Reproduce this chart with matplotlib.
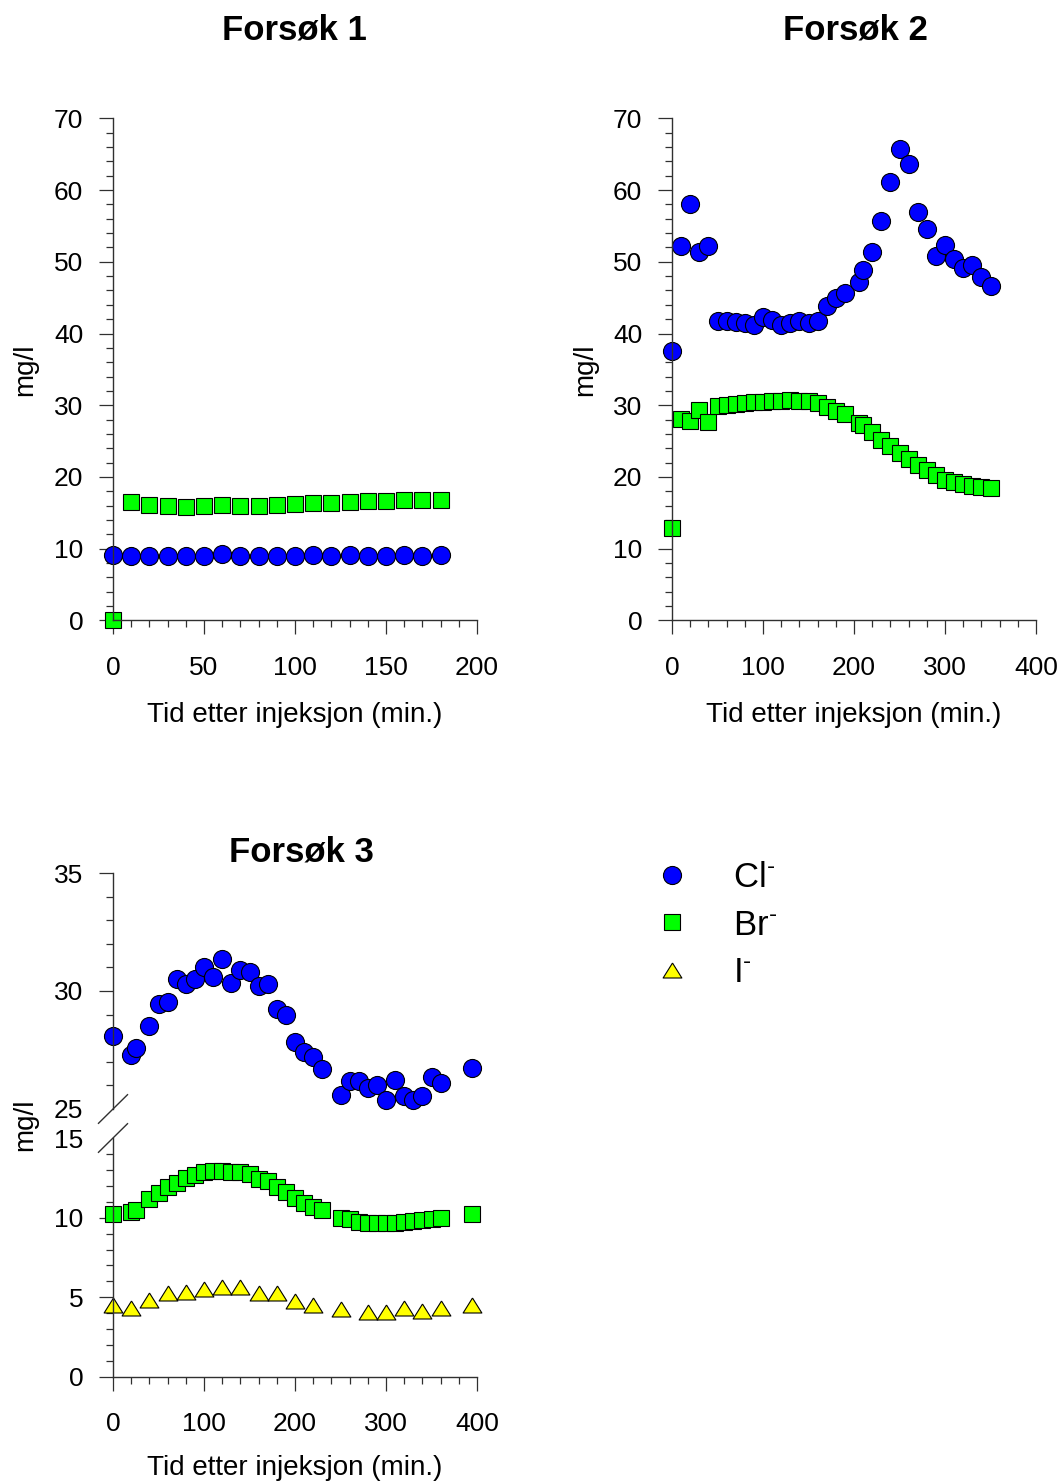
import matplotlib
matplotlib.use('Agg')
import matplotlib.pyplot as plt
from matplotlib.ticker import MultipleLocator, FixedLocator

plt.rcParams['font.family'] = ['Liberation Sans', 'DejaVu Sans']
plt.rcParams['mathtext.fontset'] = 'custom'
plt.rcParams['mathtext.rm'] = 'Liberation Sans'
plt.rcParams['mathtext.it'] = 'Liberation Sans:italic'
plt.rcParams['mathtext.bf'] = 'Liberation Sans:bold'

# ---------------- data ----------------
# Forsøk 1
x1 = [0, 10, 20, 30, 40, 50, 60, 70, 80, 90, 100, 110, 120, 130, 140, 150, 160, 170, 180]
cl1 = [9.1, 8.9, 9.0, 9.0, 9.0, 9.0, 9.2, 9.0, 9.0, 9.0, 9.0, 9.1, 9.0, 9.1, 9.0, 9.0, 9.1, 9.0, 9.1]
br1 = [0.0, 16.5, 16.1, 16.0, 15.8, 15.9, 16.1, 16.0, 16.0, 16.1, 16.2, 16.4, 16.4, 16.5, 16.6, 16.7, 16.8, 16.8, 16.8]

# Forsøk 2
x2 = [0, 10, 20, 30, 40, 50, 60, 70, 80, 90, 100, 110, 120, 130, 140, 150, 160, 170, 180, 190,
      205, 210, 220, 230, 240, 250, 260, 270, 280, 290, 300, 310, 320, 330, 340, 350]
cl2 = [37.5, 52.2, 58.1, 51.3, 52.2, 41.8, 41.7, 41.6, 41.5, 41.2, 42.3, 41.9, 41.2, 41.4, 41.7, 41.4,
       41.8, 43.9, 45.0, 45.7, 47.2, 48.8, 51.3, 55.7, 61.1, 65.7, 63.6, 56.9, 54.6, 50.8, 52.4, 50.4,
       49.2, 49.5, 47.9, 46.6]
br2 = [12.9, 28.1, 27.8, 29.3, 27.6, 29.9, 30.0, 30.2, 30.3, 30.4, 30.5, 30.6, 30.6, 30.7, 30.6, 30.6,
       30.3, 29.8, 29.2, 28.8, 27.5, 27.3, 26.3, 25.2, 24.3, 23.3, 22.5, 21.7, 20.9, 20.2, 19.6, 19.3,
       19.0, 18.8, 18.6, 18.4]

# Forsøk 3
x3 = [0, 20, 25, 40, 50, 60, 70, 80, 90, 100, 110, 120, 130, 140, 150, 160, 170, 180, 190, 200,
      210, 220, 230, 250, 260, 270, 280, 290, 300, 310, 320, 330, 340, 350, 360, 395]
cl3 = [28.1, 27.3, 27.6, 28.5, 29.45, 29.55, 30.5, 30.3, 30.5, 31.0, 30.6, 31.35, 30.35, 30.9, 30.8,
       30.2, 30.3, 29.25, 29.0, 27.85, 27.4, 27.2, 26.7, 25.6, 26.2, 26.2, 25.9, 26.0, 25.4, 26.25,
       25.55, 25.4, 25.55, 26.35, 26.1, 26.75]
br3 = [10.2, 10.35, 10.45, 11.2, 11.55, 11.9, 12.2, 12.5, 12.65, 12.85, 12.9, 12.9, 12.85, 12.85, 12.75,
       12.45, 12.3, 11.9, 11.6, 11.25, 10.95, 10.65, 10.45, 10.0, 9.9, 9.75, 9.65, 9.65, 9.65, 9.65,
       9.7, 9.8, 9.85, 9.9, 9.95, 10.25]
xi3 = [0, 20, 40, 60, 80, 100, 120, 140, 160, 180, 200, 220, 250, 280, 300, 320, 340, 360, 395]
i3 = [4.5, 4.35, 4.85, 5.25, 5.35, 5.55, 5.65, 5.65, 5.25, 5.25, 4.75, 4.55, 4.25, 4.05, 4.05, 4.35,
      4.15, 4.35, 4.5]

titles = ['Forsøk 1', 'Forsøk 2', 'Forsøk 3']
xlabel = 'Tid etter injeksjon (min.)'
ylabel = 'mg/l'
legend_labels = ['Cl$^{\\text{-}}$', 'Br$^{\\text{-}}$', 'I$^{\\text{-}}$']

# ---------------- style ----------------
W, H = 1063, 1481
fig = plt.figure(figsize=(W / 100, H / 100), dpi=100)

def rect(l, t, r, b):
    return [l / W, 1 - b / H, (r - l) / W, (b - t) / H]

AXC = '#303030'
TRI = [(0, 0.8), (-1, -0.8), (1, -0.8), (0, 0.8)]
cl_kw = dict(ls='none', marker='o', ms=13, mfc='#0000ff', mec='black', mew=0.8, clip_on=False)
br_kw = dict(ls='none', marker='s', ms=11.3, mfc='#00ff00', mec='black', mew=0.8, clip_on=False)
i_kw = dict(ls='none', marker=TRI, ms=13.5, mfc='#ffff00', mec='black', mew=0.8, clip_on=False)

def style(ax, bottom=True):
    for s in ['top', 'right']:
        ax.spines[s].set_visible(False)
    for s in ['left', 'bottom']:
        ax.spines[s].set_color(AXC)
        ax.spines[s].set_linewidth(1.0)
    ax.tick_params(which='major', length=10, width=0.9, color=AXC, labelsize=19, labelcolor='black')
    ax.tick_params(which='minor', length=5, width=0.9, color=AXC)
    ax.tick_params(axis='x', which='major', pad=15.5)
    ax.tick_params(axis='y', which='major', pad=11.5)
    if not bottom:
        ax.spines['bottom'].set_visible(False)
        ax.tick_params(axis='x', which='both', bottom=False, labelbottom=False)
    ax.patch.set_visible(False)

ax1 = fig.add_axes(rect(113, 118.4, 477, 620.3))
ax2 = fig.add_axes(rect(672, 118.4, 1036, 620.3))
ax3u = fig.add_axes(rect(113, 873, 477, 1109))
ax3l = fig.add_axes(rect(113, 1138, 477, 1377))

# Panel 1
ax1.plot(x1, cl1, **cl_kw)
ax1.plot(x1, br1, **br_kw)
ax1.set_xlim(0, 200)
ax1.set_ylim(0, 70)
ax1.xaxis.set_major_locator(MultipleLocator(50))
ax1.xaxis.set_minor_locator(MultipleLocator(10))
ax1.yaxis.set_major_locator(MultipleLocator(10))
ax1.yaxis.set_minor_locator(MultipleLocator(2))
style(ax1)

# Panel 2
ax2.plot(x2, cl2, **cl_kw)
ax2.plot(x2, br2, **br_kw)
ax2.set_xlim(0, 400)
ax2.set_ylim(0, 70)
ax2.xaxis.set_major_locator(MultipleLocator(100))
ax2.xaxis.set_minor_locator(MultipleLocator(20))
ax2.yaxis.set_major_locator(MultipleLocator(10))
ax2.yaxis.set_minor_locator(MultipleLocator(2))
style(ax2)

# Panel 3 (broken axis)
h_cl, = ax3u.plot(x3, cl3, **cl_kw)
h_br, = ax3l.plot(x3, br3, **br_kw)
h_i, = ax3l.plot(xi3, i3, **i_kw)
for ax in (ax3u, ax3l):
    ax.set_xlim(0, 400)
    ax.xaxis.set_major_locator(MultipleLocator(100))
    ax.xaxis.set_minor_locator(MultipleLocator(20))
    ax.yaxis.set_minor_locator(MultipleLocator(1))
ax3u.set_ylim(25, 35)
ax3u.yaxis.set_major_locator(FixedLocator([25, 30, 35]))
ax3l.set_ylim(0, 15)
ax3l.yaxis.set_major_locator(FixedLocator([0, 5, 10, 15]))
style(ax3u, bottom=False)
style(ax3l)
fig.canvas.draw()
ax3u.yaxis.get_major_ticks()[0].tick1line.set_visible(False)
ax3l.yaxis.get_major_ticks()[-1].tick1line.set_visible(False)

# break marks
dxu, dyu = 14.5 / 364, 14.3 / 236
ax3u.plot([-dxu, dxu], [-dyu, dyu], transform=ax3u.transAxes, color=AXC, lw=1.0, clip_on=False)
dxl, dyl = 14.5 / 364, 14.3 / 239
ax3l.plot([-dxl, dxl], [1 - dyl, 1 + dyl], transform=ax3l.transAxes, color=AXC, lw=1.0, clip_on=False)

# titles & labels
fig.text(294 / W, 1 - 40 / H, titles[0], ha='center', va='baseline', fontsize=25, fontweight='bold')
fig.text(855 / W, 1 - 40 / H, titles[1], ha='center', va='baseline', fontsize=25, fontweight='bold')
fig.text(301 / W, 1 - 862 / H, titles[2], ha='center', va='baseline', fontsize=25, fontweight='bold')

fig.text(294.5 / W, 1 - 722 / H, xlabel, ha='center', va='baseline', fontsize=20)
fig.text(853.7 / W, 1 - 722 / H, xlabel, ha='center', va='baseline', fontsize=20)
fig.text(294.5 / W, 1 - 1475 / H, xlabel, ha='center', va='baseline', fontsize=20)

fig.text(25 / W, 1 - 370 / H, ylabel, rotation=90, ha='center', va='center', fontsize=20)
fig.text(585 / W, 1 - 370 / H, ylabel, rotation=90, ha='center', va='center', fontsize=20)
fig.text(25 / W, 1 - 1125 / H, ylabel, rotation=90, ha='center', va='center', fontsize=20)

# legend
fig.legend([h_cl, h_br, h_i], legend_labels, loc='upper left',
           bbox_to_anchor=(655 / W, 1 - 861 / H), frameon=False, fontsize=25,
           handlelength=1.0, handletextpad=1.25, labelspacing=0.42,
           borderpad=0, borderaxespad=0)

fig.savefig('out.png', dpi=100)
